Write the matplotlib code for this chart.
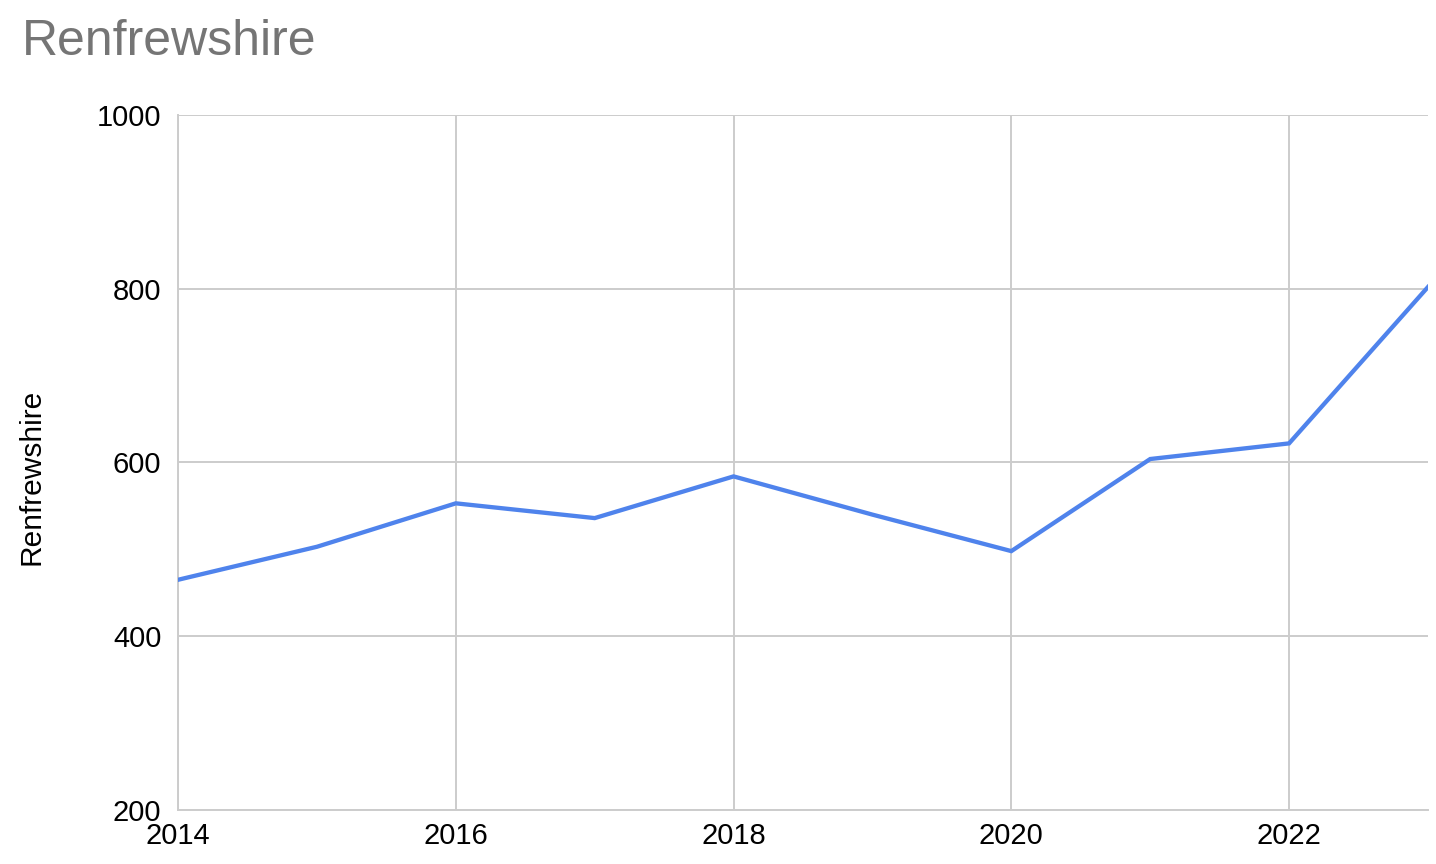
import matplotlib.pyplot as plt

plt.rcParams['font.family'] = ['Liberation Sans', 'DejaVu Sans']

years = [2014, 2015, 2016, 2017, 2018, 2019, 2020, 2021, 2022, 2023]
values = [465, 503, 553, 536, 584, 540, 498, 604, 622, 802]

xticks = [2014, 2016, 2018, 2020, 2022]
yticks = [200, 400, 600, 800, 1000]

fig = plt.figure(figsize=(14.36, 8.64), dpi=100)
ax = fig.add_axes([0.124, 0.0625, 0.8704, 0.8044])

ax.plot(years, values, color='#4f83ec', linewidth=3.1, solid_joinstyle='miter', zorder=3)

ax.set_xlim(2014, 2023)
ax.set_ylim(200, 1000)
ax.set_xticks(xticks)
ax.set_yticks(yticks)
ax.grid(True, color='#cccccc', linewidth=1.4)
ax.set_axisbelow(True)

for side in ['top', 'right']:
    ax.spines[side].set_visible(False)
for side in ['left', 'bottom']:
    ax.spines[side].set_color('#cccccc')
    ax.spines[side].set_linewidth(1.4)

ax.tick_params(length=0, labelsize=21, colors='black')
ax.tick_params(axis='x', pad=9)
ax.tick_params(axis='y', pad=12)

ax.set_ylabel('Renfrewshire', fontsize=21.5)
ax.yaxis.set_label_coords(-0.106, 0.479)
fig.text(0.015, 0.951, 'Renfrewshire', fontsize=36, color='#757575', va='center')

fig.savefig('out.png', dpi=100)
